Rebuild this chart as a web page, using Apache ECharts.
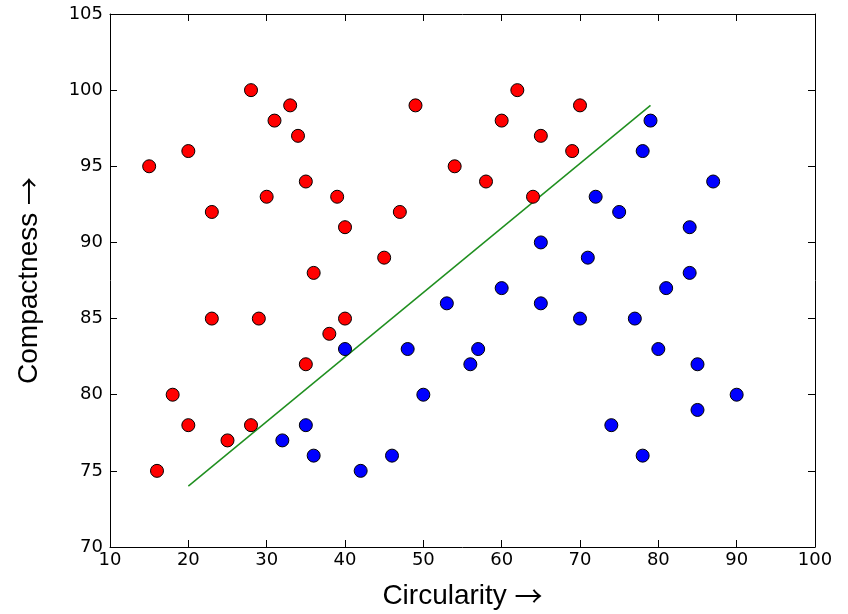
<!DOCTYPE html>
<html>
<head>
<meta charset="utf-8">
<script src="https://cdn.jsdelivr.net/npm/echarts@6/dist/echarts.min.js"></script>
<style>
  html, body { margin: 0; padding: 0; background: #fff; }
  #chart { width: 848px; height: 614px; }
</style>
</head>
<body>
<div id="chart"></div>
<script>
// class A (red) points: [circularity, compactness]
const redPoints = [
  [15, 95], [16, 75], [18, 80], [20, 96], [20, 78], [23, 92], [23, 85],
  [25, 77], [28, 100], [28, 78], [29, 85], [30, 93], [31, 98], [33, 99],
  [34, 97], [35, 94], [35, 82], [36, 88], [38, 84], [39, 93], [40, 91],
  [40, 85], [45, 89], [47, 92], [49, 99], [54, 95], [58, 94], [60, 98],
  [62, 100], [64, 93], [65, 97], [69, 96], [70, 99]
]
// class B (blue) points
const bluePoints = [
  [79, 98], [78, 96], [87, 94], [72, 93], [75, 92], [84, 91], [65, 90],
  [71, 89], [84, 88], [60, 87], [81, 87], [53, 86], [65, 86], [70, 85],
  [77, 85], [40, 83], [48, 83], [57, 83], [80, 83], [56, 82], [85, 82],
  [50, 80], [90, 80], [85, 79], [35, 78], [74, 78], [32, 77], [36, 76],
  [46, 76], [78, 76], [42, 75]
]
// separating line
const boundary = [[20, 74], [79, 99]]

const xRange = [10, 100]
const yRange = [70, 105]

const chart = echarts.init(document.getElementById('chart'))

const tickLabel = {
  color: '#000',
  fontFamily: 'DejaVu Sans',
  fontSize: 18
}

// axis title: text in Liberation Sans, thin arrow from the CJK font
const nameStyle = {
  color: '#000',
  fontFamily: 'Liberation Sans',
  fontSize: 28,
  lineHeight: 30,
  rich: {
    t: { fontFamily: 'Liberation Sans', fontSize: 28, color: '#000', lineHeight: 30 },
    a: { fontFamily: 'Noto Sans CJK SC', fontSize: 28, color: '#000', lineHeight: 30 }
  }
}

// common axis look, matplotlib classic style: ticks inward
function baseAxis(range, interval) {
  return {
    type: 'value',
    min: range[0],
    max: range[1],
    interval: interval,
    splitLine: { show: false },
    axisLine: { show: true, onZero: false, lineStyle: { color: '#000', width: 1 } },
    axisTick: { show: true, inside: true, length: 7, lineStyle: { color: '#000', width: 1 } }
  }
}

chart.setOption({
  backgroundColor: '#fff',
  animation: false,
  grid: {
    left: 110,
    right: 33,
    top: 14,
    bottom: 67,
    outerBoundsMode: 'none'
  },
  xAxis: [
    Object.assign(baseAxis(xRange, 10), {
      position: 'bottom',
      name: '{t|Circularity} {a|→}',
      nameLocation: 'middle',
      nameGap: 34,
      nameTextStyle: nameStyle,
      axisLabel: Object.assign({ margin: 4 }, tickLabel)
    }),
    Object.assign(baseAxis(xRange, 10), {
      position: 'top',
      axisLabel: { show: false }
    })
  ],
  yAxis: [
    Object.assign(baseAxis(yRange, 5), {
      position: 'left',
      name: '{t|Compactness} {a|→}',
      nameLocation: 'middle',
      nameGap: 66,
      nameTextStyle: nameStyle,
      axisLabel: Object.assign({ margin: 7 }, tickLabel)
    }),
    Object.assign(baseAxis(yRange, 5), {
      position: 'right',
      axisLabel: { show: false }
    })
  ],
  series: [
    {
      type: 'line',
      data: boundary,
      symbol: 'none',
      lineStyle: { color: '#1f8f1f', width: 1.5 },
      z: 1
    },
    {
      type: 'scatter',
      data: redPoints,
      symbolSize: 13,
      itemStyle: { color: '#ff0000', borderColor: '#000', borderWidth: 1, opacity: 1 },
      z: 2
    },
    {
      type: 'scatter',
      data: bluePoints,
      symbolSize: 13,
      itemStyle: { color: '#0000ff', borderColor: '#000', borderWidth: 1, opacity: 1 },
      z: 2
    }
  ]
})
</script>
</body>
</html>
